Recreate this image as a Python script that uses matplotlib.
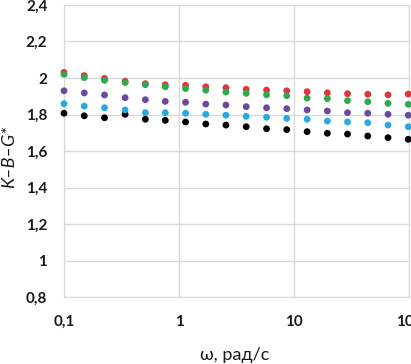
import matplotlib
matplotlib.use("Agg")
import matplotlib.pyplot as plt
from matplotlib.ticker import FixedLocator, FixedFormatter

# frequency, rad/s
omega = [0.1, 0.15, 0.225, 0.34, 0.51, 0.76, 1.14, 1.71, 2.56, 3.84, 5.77,
         8.65, 13.0, 19.5, 29.2, 43.8, 65.7, 98.5]

kbg_black = [1.807, 1.793, 1.782, 1.801, 1.774, 1.768, 1.759, 1.748, 1.742,
             1.733, 1.722, 1.717, 1.706, 1.697, 1.693, 1.682, 1.673, 1.664]
kbg_cyan = [1.859, 1.846, 1.837, 1.825, 1.810, 1.810, 1.807, 1.801, 1.796,
            1.790, 1.785, 1.779, 1.774, 1.764, 1.759, 1.755, 1.742, 1.733]
kbg_purple = [1.930, 1.918, 1.907, 1.892, 1.881, 1.872, 1.867, 1.857, 1.852,
              1.843, 1.837, 1.832, 1.825, 1.819, 1.810, 1.807, 1.801, 1.796]
kbg_red = [2.031, 2.013, 1.998, 1.982, 1.969, 1.963, 1.960, 1.952, 1.947,
           1.938, 1.934, 1.930, 1.925, 1.919, 1.914, 1.911, 1.908, 1.912]
kbg_green = [2.020, 2.002, 1.987, 1.975, 1.963, 1.952, 1.942, 1.933, 1.923,
             1.916, 1.908, 1.903, 1.890, 1.887, 1.876, 1.870, 1.861, 1.856]

xticks = [0.1, 1, 10, 100]
xtick_labels = ["0,1", "1", "10", "100"]
yticks = [0.8, 1.0, 1.2, 1.4, 1.6, 1.8, 2.0, 2.2, 2.4]
ytick_labels = ["0,8", "1", "1,2", "1,4", "1,6", "1,8", "2", "2,2", "2,4"]

plt.rcParams['font.family'] = ['Lato', 'DejaVu Sans']

fig = plt.figure(figsize=(4.11, 3.64), dpi=100, facecolor='w')
ax = fig.add_axes([64/411, 1 - 297/364, 345/411, 292/364])

series = [(kbg_black, '#000000'), (kbg_cyan, '#27aae1'), (kbg_purple, '#6a4a9c'),
          (kbg_red, '#e2343b'), (kbg_green, '#2fa84f')]
for vals, col in series:
    ax.scatter(omega, vals, s=24, color=col, edgecolors='none', zorder=3, clip_on=False)

ax.set_xscale('log')
ax.set_xlim(0.1, 100)
ax.set_ylim(0.8, 2.4)
ax.xaxis.set_major_locator(FixedLocator(xticks))
ax.xaxis.set_major_formatter(FixedFormatter(xtick_labels))
ax.xaxis.set_minor_locator(FixedLocator([]))
ax.yaxis.set_major_locator(FixedLocator(yticks))
ax.yaxis.set_major_formatter(FixedFormatter(ytick_labels))

ax.grid(True, color='#d9d9d9', lw=1)
ax.set_axisbelow(True)
for sp in ax.spines.values():
    sp.set_color('#d9d9d9')
ax.tick_params(axis='both', length=0, labelsize=11, colors='#1a1a1a')
ax.tick_params(axis='y', pad=12)
ax.tick_params(axis='x', pad=13)
for lab in ax.get_xticklabels() + ax.get_yticklabels():
    lab.set_fontweight('bold')

fig.text(9/411, 1 - 157/364, 'K–B–G*', fontsize=13, style='italic',
         rotation=90, ha='center', va='center', color='#1a1a1a')
fig.text(235/411, 1 - 355/364, 'ω, рад/с', fontsize=13,
         ha='center', va='center', color='#1a1a1a')

plt.savefig('out.png', dpi=100)
